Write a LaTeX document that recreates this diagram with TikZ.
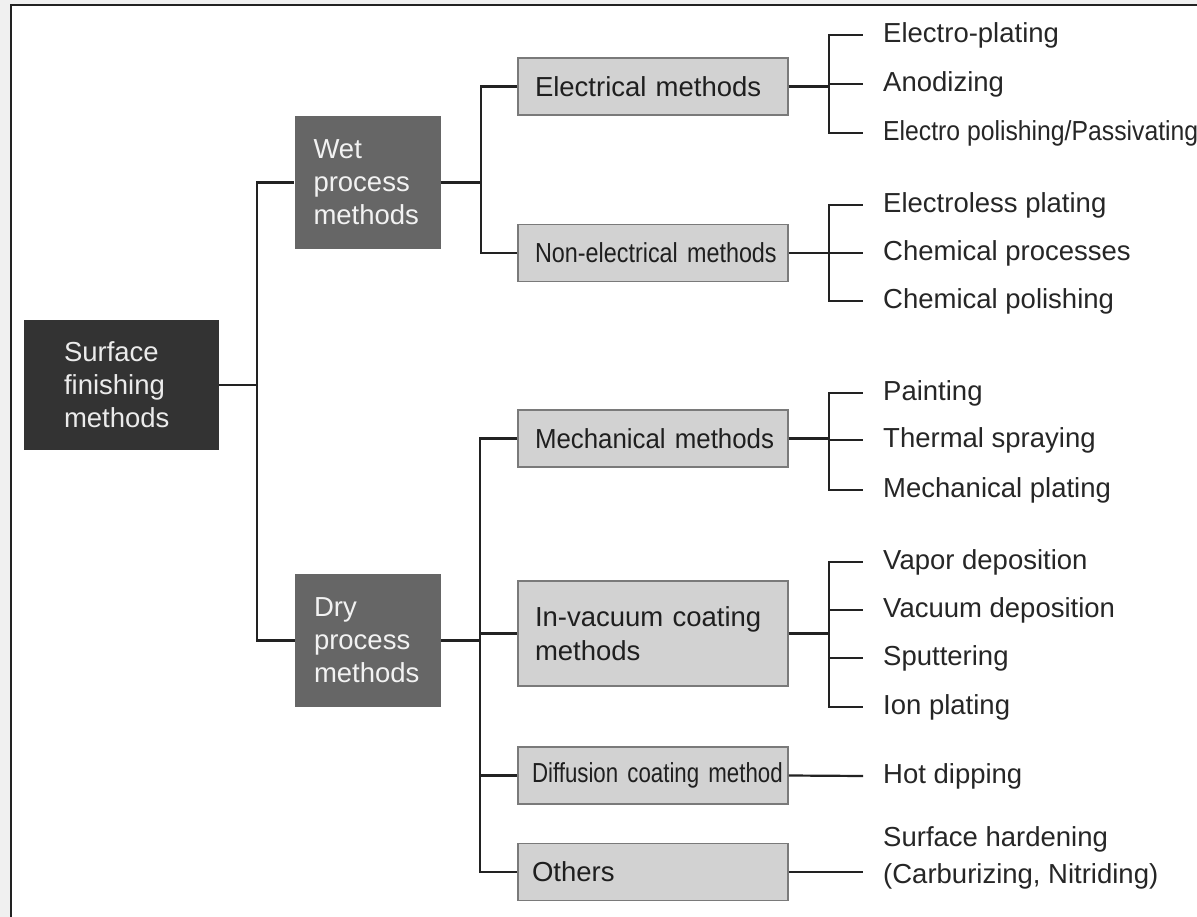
\documentclass[tikz,border=0pt]{standalone}
\usepackage{fontspec}
\setmainfont{Liberation Sans}
\newfontfamily\narrowsf[FakeStretch=0.85]{Liberation Sans}
\newfontfamily\tightsf[FakeStretch=0.81]{Liberation Sans}
\newfontfamily\slimsf[FakeStretch=0.94]{Liberation Sans}
\newfontfamily\semisf[FakeStretch=0.9]{Liberation Sans}
\definecolor{rootgray}{HTML}{333333}
\definecolor{procgray}{HTML}{666666}
\definecolor{methgray}{HTML}{D2D2D2}
\definecolor{methedge}{HTML}{7A7A7A}
\definecolor{linegray}{HTML}{222222}
\tikzset{
  txt/.style={font=\fontsize{27.5}{33}\selectfont},
  rootbox/.style={txt, fill=rootgray, text=white!92!black, minimum width=195pt, minimum height=130pt,
    text width=115pt, align=left, inner sep=0pt},
  procbox/.style={txt, fill=procgray, text=white!95!black, minimum width=146pt, minimum height=133pt,
    text width=108pt, align=left, inner sep=0pt},
  methbox/.style={txt, fill=methgray, draw=methedge, line width=1.5pt, minimum width=270pt,
    minimum height=57pt, text width=236pt, align=left, inner sep=0pt, text=black!88},
  leaf/.style={txt, anchor=west, inner xsep=20pt, inner ysep=0pt, text=black!85},
  link/.style={draw=linegray, line width=2.2pt},
  frame/.style={draw=linegray, line width=2pt}
}
\begin{document}
\begin{tikzpicture}[x=1pt,y=-1pt]
			%%%%% START %%%%%
			\useasboundingbox (0,0) rectangle (1197,917);
			\fill[white] (0,0) rectangle (1197,917);
			\fill[black!6] (0,0) rectangle (10,917);
			\fill[black!6] (0,0) rectangle (1197,4);
			\draw[frame] (11,917) -- (11,5) -- (1197,5);
			
			% root and the two process groups
			\node[rootbox] (root) at (121.5,385) {Surface\\finishing\\methods};
			\node[procbox] (wet) at (367.5,182.5) {Wet\\process\\methods};
			\node[procbox] (dry) at (368,640.5) {Dry\\process\\methods};
			
			% method boxes
			\node[methbox] (elec) at (653,86.5) {\mbox{Electrical methods}};
			\node[methbox] (nonel) at (653,253) {\mbox{\narrowsf Non-electrical methods}};
			\node[methbox] (mech) at (653,438.5) {\mbox{\slimsf Mechanical methods}};
			\node[methbox, minimum height=105pt, font=\fontsize{27.5}{34}\selectfont] (vac) at (653,633.5) {\mbox{In-vacuum coating}\\methods};
			\node[methbox] (diff) at (653,775.5) {\hspace*{-3pt}\mbox{\tightsf Diffusion coating method}};
			\node[methbox] (oth) at (653,872) {\hspace*{-3pt}Others};
			
			% leaves
			\node[leaf] (eplat) at (863,35) {Electro-plating};
			\node[leaf] (anod) at (863,84) {Anodizing};
			\node[leaf] (epol) at (863,133) {\semisf Electro polishing/Passivating};
			
			\node[leaf] (eless) at (863,205) {Electroless plating};
			\node[leaf] (chemp) at (863,253) {Chemical processes};
			\node[leaf] (chempol) at (863,301) {Chemical polishing};
			
			\node[leaf] (paint) at (863,393) {Painting};
			\node[leaf] (therm) at (863,440) {Thermal spraying};
			\node[leaf] (mplat) at (863,490) {Mechanical plating};
			
			\node[leaf] (vapor) at (863,562) {Vapor deposition};
			\node[leaf] (vdep) at (863,610) {Vacuum deposition};
			\node[leaf] (sput) at (863,658) {Sputtering};
			\node[leaf] (ion) at (863,707) {Ion plating};
			
			\node[leaf] (hot) at (863,776) {Hot dipping};
			\node[leaf, align=left, font=\fontsize{27.5}{37}\selectfont] (hard) at (863,858) {Surface hardening\\(Carburizing, Nitriding)};
			
			% connectors
			\draw[link] (root.east) -- ++(38,0) |- (wet.west);
			\draw[link] (root.east) -- ++(38,0) |- (dry.west);
			
			\foreach \m in {elec,nonel} \draw[link] (wet.east) -- ++(40,0) |- (\m.west);
			\foreach \m in {mech,vac,diff,oth} \draw[link] (dry.east) -- ++(39,0) |- (\m.west);
			
			\foreach \l in {eplat,anod,epol} \draw[link] (elec.east) -- ++(40,0) |- (\l.west);
			\foreach \l in {eless,chemp,chempol} \draw[link] (nonel.east) -- ++(40,0) |- (\l.west);
			\foreach \l in {paint,therm,mplat} \draw[link] (mech.east) -- ++(40,0) |- (\l.west);
			\foreach \l in {vapor,vdep,sput,ion} \draw[link] (vac.east) -- ++(40,0) |- (\l.west);
			
			\draw[link] (diff.east) -- (hot.west);
			\draw[link] (oth.east) -- (oth.east -| hard.west);
			
			%%%%% END %%%%%
\end{tikzpicture}
\end{document}
